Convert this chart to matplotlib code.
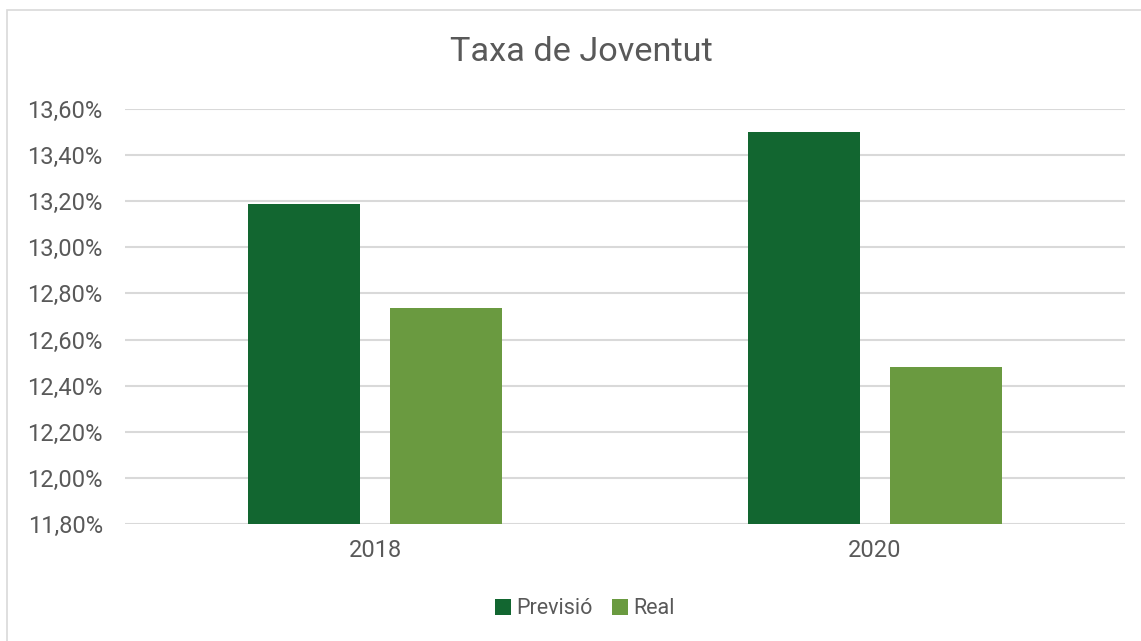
import matplotlib
matplotlib.use("Agg")
import matplotlib.pyplot as plt
from matplotlib.ticker import FuncFormatter
from matplotlib.patches import Rectangle
import numpy as np

categories = ["2018", "2020"]
previsio = [13.19, 13.50]
real = [12.735, 12.48]
series_names = ["Previsió", "Real"]
colors = ["#126630", "#6A9A40"]

plt.rcParams['font.family'] = ['Roboto', 'DejaVu Sans']

fig = plt.figure(figsize=(11.41, 6.41), dpi=100)
fig.patch.set_facecolor("white")
# outer chart frame
fig.add_artist(Rectangle((7/1141, -0.01), 1.2, 1 - 10/641 + 0.01, transform=fig.transFigure,
                         fill=False, edgecolor="#D9D9D9", linewidth=1.2))

ax = fig.add_axes([125/1141, 1 - 524/641, 1000/1141, (524 - 109)/641])
x = np.arange(len(categories))
w = 0.224
off = 0.142
ax.bar(x - off, previsio, width=w, color=colors[0], label=series_names[0], zorder=3)
ax.bar(x + off, real, width=w, color=colors[1], label=series_names[1], zorder=3)

ax.set_ylim(11.8, 13.6)
ax.set_xlim(-0.5, 1.5)
ax.set_yticks(np.arange(11.8, 13.601, 0.2))
ax.yaxis.set_major_formatter(FuncFormatter(lambda v, p: f"{v:.2f}%".replace(".", ",")))
ax.set_xticks(x)
ax.set_xticklabels(categories)
ax.grid(axis="y", color="#D9D9D9", linewidth=1.5, zorder=0)
for s in ax.spines.values():
    s.set_visible(False)
ax.tick_params(axis="both", length=0, labelsize=17, colors="#595959")
ax.tick_params(axis="y", pad=16)
ax.tick_params(axis="x", pad=11)

fig.text(581/1141, 1 - 52/641, "Taxa de Joventut", ha="center", va="center",
         fontsize=24.7, color="#595959")

leg = fig.legend(loc="center", bbox_to_anchor=(585/1141, 1 - 609/641), ncol=2,
                 frameon=False, fontsize=15.5, handlelength=0.75, handleheight=0.75,
                 handletextpad=0.25, columnspacing=0.9)
for t in leg.get_texts():
    t.set_color("#595959")

fig.savefig("out.png", dpi=100, facecolor="white")
